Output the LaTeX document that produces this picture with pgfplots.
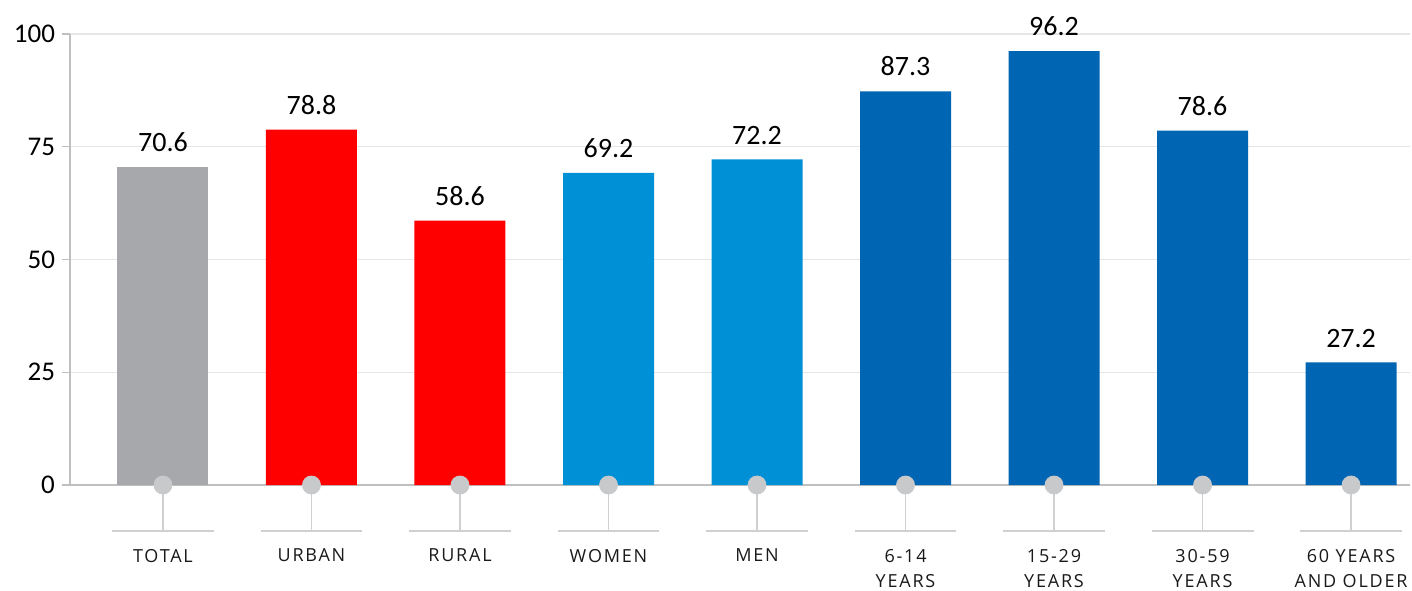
\documentclass[border=0pt]{standalone}
\usepackage{pgfplots}
\pgfplotsset{compat=1.18}
\usepackage{fontspec}
\setmainfont{Carlito}
\newfontfamily\catfont[LetterSpace=10]{Open Sans}

\definecolor{barGray}{HTML}{A7A8AC}
\definecolor{barRed}{HTML}{FF0000}
\definecolor{barLight}{HTML}{0090D5}
\definecolor{barDark}{HTML}{0065B3}
\definecolor{axisGray}{HTML}{BFBFBF}
\definecolor{gridGray}{HTML}{E6E6E6}
\definecolor{dotGray}{HTML}{C8C9CB}
\definecolor{stemGray}{HTML}{D0D0D0}

\pgfplotsset{
  valbar/.style={
    ybar, bar width=45.5pt, bar shift=0pt, draw=none, fill=#1,
    nodes near coords,
    nodes near coords style={font=\fontsize{14}{16}\selectfont, text=black,
      yshift=4pt,
      /pgf/number format/fixed, /pgf/number format/fixed zerofill,
      /pgf/number format/precision=1},
  },
}

\begin{document}
\begin{tikzpicture}
\useasboundingbox (-35pt,-52.5pt) rectangle (671pt,242.5pt);
\begin{axis}[
  at={(0,0)}, anchor=south west,
  scale only axis,
  width=670pt, height=225.5pt,
  xmin=-0.626, xmax=8.397,
  ymin=0, ymax=100,
  axis lines=left,
  axis line style={-, draw=axisGray, line width=0.75pt},
  ytick={0,25,50,75,100},
  ymajorgrids,
  grid style={draw=gridGray, line width=0.6pt},
  tick align=outside,
  major tick length=4pt,
  y tick style={draw=axisGray, line width=0.6pt},
  x tick style={draw=none},
  xtick={0,...,8},
  xticklabels={TOTAL, URBAN, RURAL, WOMEN, MEN, {6-14\\YEARS}, {15-29\\YEARS},
               {30-59\\YEARS}, {60 YEARS\\AND OLDER}},
  xticklabel style={font=\catfont\fontsize{9}{12.5}\selectfont, align=center,
                    yshift=-24.5pt, text=black!90},
  yticklabel style={font=\fontsize{13.5}{16}\selectfont},
  /pgf/number format/assume math mode=true,
  clip=false,
]
% bars, grouped by colour
\addplot[valbar=barGray]  coordinates {(0,70.6)};
\addplot[valbar=barRed]   coordinates {(1,78.8) (2,58.6)};
\addplot[valbar=barLight] coordinates {(3,69.2) (4,72.2)};
\addplot[valbar=barDark]  coordinates {(5,87.3) (6,96.2) (7,78.6) (8,27.2)};

% stems hanging below each category
\addplot[draw=none, mark=none,
  error bars/.cd, y dir=minus, y fixed=10.2, error mark=none,
  error bar style={draw=stemGray, line width=0.6pt}]
  coordinates {(0,0) (1,0) (2,0) (3,0) (4,0) (5,0) (6,0) (7,0) (8,0)};
% short horizontal rules above the category names
\addplot[draw=none, mark=none,
  error bars/.cd, x dir=both, x fixed=0.343, error mark=none,
  error bar style={draw=stemGray, line width=0.6pt}]
  coordinates {(0,-10.2) (1,-10.2) (2,-10.2) (3,-10.2) (4,-10.2)
               (5,-10.2) (6,-10.2) (7,-10.2) (8,-10.2)};
% dots on the baseline
\addplot[only marks, mark=*, mark size=4.5pt, color=dotGray,
  mark options={fill=dotGray, draw=dotGray}]
  coordinates {(0,0) (1,0) (2,0) (3,0) (4,0) (5,0) (6,0) (7,0) (8,0)};
\end{axis}
\end{tikzpicture}
\end{document}
